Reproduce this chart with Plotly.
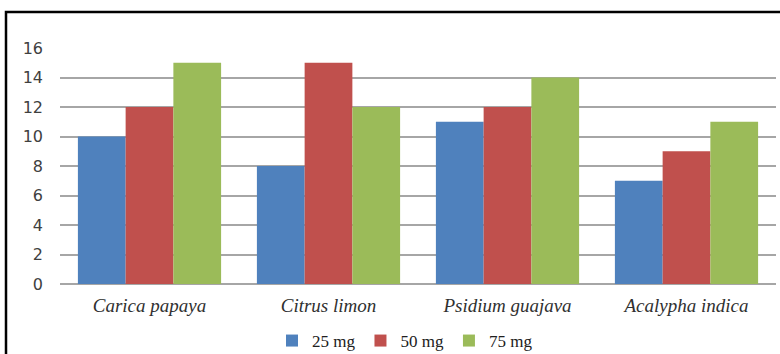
import plotly.graph_objects as go

categories = ["Carica papaya", "Citrus limon", "Psidium guajava", "Acalypha indica"]
series_names = ["25 mg", "50 mg", "75 mg"]
values_25 = [10, 8, 11, 7]
values_50 = [12, 15, 12, 9]
values_75 = [15, 12, 14, 11]
y_ticks = [0, 2, 4, 6, 8, 10, 12, 14, 16]

colors = ["#4F81BD", "#C0504D", "#9BBB59"]

L, R, T, B = 60, 4, 48, 70
W, H = 780, 354
pw, ph = W - L - R, H - T - B

fig = go.Figure()
for name, vals, col in zip(series_names, [values_25, values_50, values_75], colors):
    fig.add_trace(go.Bar(name=name, x=categories, y=vals, marker=dict(color=col, line=dict(width=0))))

fig.update_layout(
    width=W, height=H,
    margin=dict(l=L, r=R, t=T, b=B, autoexpand=False),
    paper_bgcolor="white", plot_bgcolor="white",
    barmode="group", bargap=0.2, bargroupgap=0,
    showlegend=True,
    legend=dict(orientation="h", x=(405 - L) / pw, xanchor="center",
                y=(284 - 341) / ph, yanchor="middle",
                font=dict(family="Liberation Serif", size=17, color="#202020"),
                itemwidth=30, tracegroupgap=0),
    shapes=[dict(type="rect", xref="paper", yref="paper",
                 x0=(6 - L) / pw, x1=1.5, y0=-1.0, y1=(H - B - 12) / ph,
                 line=dict(color="black", width=2.5), layer="above")],
)
fig.update_xaxes(
    automargin=False,
    tickfont=dict(family="Liberation Serif", size=19, color="#303030"),
    tickprefix="<i>", ticksuffix="</i>",
    showline=False, ticks="", showgrid=False,
    ticklabelstandoff=8,
)
fig.update_yaxes(
    automargin=False,
    range=[0, 16], tickvals=y_ticks,
    showgrid=True, gridcolor="#A6A6A6", gridwidth=2,
    zeroline=True, zerolinecolor="#A6A6A6", zerolinewidth=2,
    tickfont=dict(family="DejaVu Sans", size=16, color="#404040"),
    ticks="", ticklen=0, showline=False,
    ticklabelstandoff=16,
)

fig.write_html("out.html", config={"displayModeBar": False},
               post_script="document.body.style.margin='0';document.body.style.overflow='hidden';")
